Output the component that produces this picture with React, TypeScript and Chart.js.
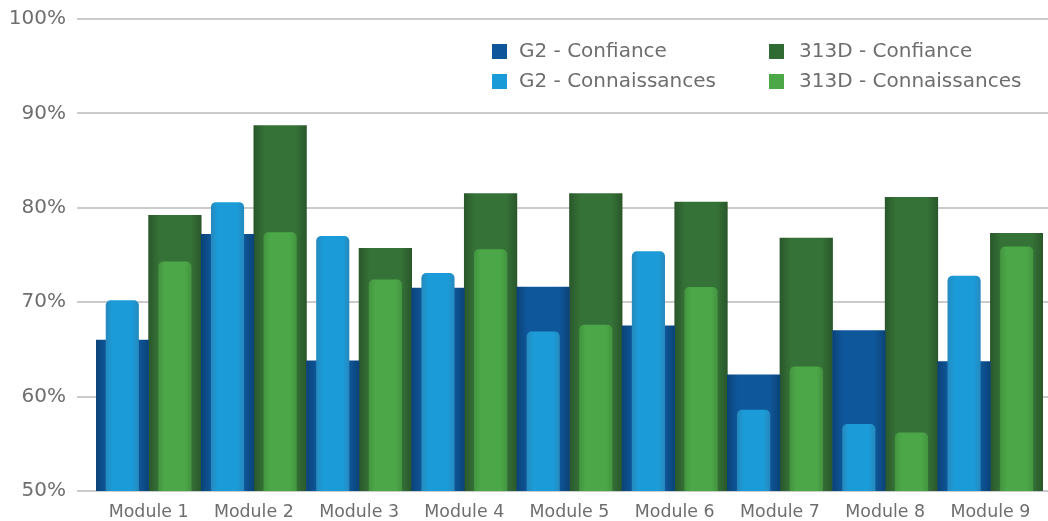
import React, { useEffect, useRef } from 'react';
import { Chart, registerables } from 'chart.js';

Chart.register(...registerables);

const categories = ['Module 1', 'Module 2', 'Module 3', 'Module 4', 'Module 5', 'Module 6', 'Module 7', 'Module 8', 'Module 9'];
const g2Confiance = [66.0, 77.2, 63.8, 71.5, 71.6, 67.5, 62.3, 67.0, 63.7];
const g2Connaissances = [70.2, 80.6, 77.0, 73.1, 66.9, 75.4, 58.6, 57.1, 72.8];
const d313Confiance = [79.2, 88.7, 75.7, 81.5, 81.5, 80.6, 76.8, 81.1, 77.3];
const d313Connaissances = [74.3, 77.4, 72.4, 75.6, 67.6, 71.6, 63.2, 56.2, 75.9];
const seriesNames = ['G2 - Confiance', 'G2 - Connaissances', '313D - Confiance', '313D - Connaissances'];
const yMin = 50;
const yMax = 100;
const yStep = 10;

const FONT = '"DejaVu Sans", Verdana, sans-serif';
const TEXT = '#6e6e6e';
const CONN_PCT = 0.63;

const makeFill = (groupIndex: number, barPct: number, edge: string, mid: string) => (ctx: any) => {
  if (ctx.type !== 'data') return mid;
  const chart = ctx.chart;
  const scale = chart.scales.x;
  if (!scale || !scale.width) return mid;
  const catW = scale.width / categories.length;
  const center = scale.getPixelForValue(ctx.dataIndex) + (groupIndex - 0.5) * catW / 2;
  const w = (catW / 2) * barPct;
  const g = chart.ctx.createLinearGradient(center - w / 2, 0, center + w / 2, 0);
  g.addColorStop(0, edge);
  g.addColorStop(0.2, mid);
  g.addColorStop(0.8, mid);
  g.addColorStop(1, edge);
  return g;
};

const legendColors = ['#0e5599', '#1a9bd7', '#2f6b33', '#4ca747'];

const gridPlugin = {
  id: 'extGrid',
  beforeDatasetsDraw(chart: any) {
    const y = chart.scales.y;
    const ctx = chart.ctx;
    ctx.save();
    ctx.strokeStyle = '#cbcbcb';
    ctx.lineWidth = 2;
    y.ticks.forEach((t: any) => {
      const py = Math.round(y.getPixelForValue(t.value));
      ctx.beginPath();
      ctx.moveTo(77, py);
      ctx.lineTo(chart.width, py);
      ctx.stroke();
    });
    ctx.restore();
  },
};

const legendPlugin = {
  id: 'gridLegend',
  afterDraw(chart: any) {
    const ctx = chart.ctx;
    const squareX = [492, 769];
    const textX = [519, 799];
    const rows = [44, 74];
    const order = [
      [0, 0, 0],
      [1, 0, 1],
      [2, 1, 0],
      [3, 1, 1],
    ];
    ctx.save();
    ctx.font = `20px ${FONT}`;
    ctx.textBaseline = 'middle';
    ctx.textAlign = 'left';
    order.forEach(([si, c, r]) => {
      const y = rows[r];
      ctx.fillStyle = legendColors[si];
      ctx.fillRect(squareX[c], y, 15, 15);
      ctx.fillStyle = TEXT;
      ctx.fillText(seriesNames[si], textX[c], y + 8);
    });
    ctx.restore();
  },
};

export default function App() {
  const canvasRef = useRef<HTMLCanvasElement | null>(null);

  useEffect(() => {
    if (!canvasRef.current) return;
    const roundTop = { topLeft: 5, topRight: 5, bottomLeft: 0, bottomRight: 0 };
    const chart = new Chart(canvasRef.current, {
      type: 'bar',
      data: {
        labels: categories,
        datasets: [
          {
            label: seriesNames[0],
            data: g2Confiance,
            stack: 'G2',
            order: 2,
            backgroundColor: makeFill(0, 1, '#0a4378', '#0f579b'),
            categoryPercentage: 1,
            barPercentage: 1,
          },
          {
            label: seriesNames[1],
            data: g2Connaissances,
            stack: 'G2',
            order: 1,
            backgroundColor: makeFill(0, CONN_PCT, '#2689bd', '#1b9bd7'),
            categoryPercentage: 1,
            barPercentage: CONN_PCT,
            borderRadius: roundTop,
            borderSkipped: 'bottom',
          },
          {
            label: seriesNames[2],
            data: d313Confiance,
            stack: '313D',
            order: 2,
            backgroundColor: makeFill(1, 1, '#2a572b', '#357237'),
            categoryPercentage: 1,
            barPercentage: 1,
          },
          {
            label: seriesNames[3],
            data: d313Connaissances,
            stack: '313D',
            order: 1,
            backgroundColor: makeFill(1, CONN_PCT, '#43953f', '#4ca748'),
            categoryPercentage: 1,
            barPercentage: CONN_PCT,
            borderRadius: roundTop,
            borderSkipped: 'bottom',
          },
        ],
      },
      options: {
        animation: false,
        responsive: true,
        maintainAspectRatio: false,
        layout: { padding: { top: 19, right: 5, left: 0, bottom: 0 } },
        plugins: {
          legend: { display: false },
          tooltip: { enabled: false },
        },
        scales: {
          x: {
            type: 'category',
            offset: true,
            grid: { display: false, drawTicks: false },
            border: { display: false },
            ticks: {
              font: { family: FONT, size: 17.4 },
              color: TEXT,
              padding: 11,
              maxRotation: 0,
              autoSkip: false,
            },
            afterFit: (scale: any) => {
              scale.height = 30;
              scale.paddingTop = 0;
              scale.paddingBottom = 0;
            },
          },
          y: {
            min: yMin,
            max: yMax,
            stacked: false,
            grid: { display: false, drawTicks: false },
            border: { display: false },
            ticks: {
              stepSize: yStep,
              font: { family: FONT, size: 20 },
              color: TEXT,
              padding: 30,
              callback: (v: any) => `${v}%`,
            },
            afterFit: (scale: any) => {
              scale.width = 96;
              scale.paddingTop = 12;
              scale.paddingBottom = 12;
            },
          },
        },
      },
      plugins: [gridPlugin, legendPlugin],
    });
    return () => chart.destroy();
  }, []);

  return (
    <div style={{ position: 'fixed', left: 0, top: 0, width: 1048, height: 521, background: '#ffffff' }}>
      <canvas ref={canvasRef} />
    </div>
  );
}
